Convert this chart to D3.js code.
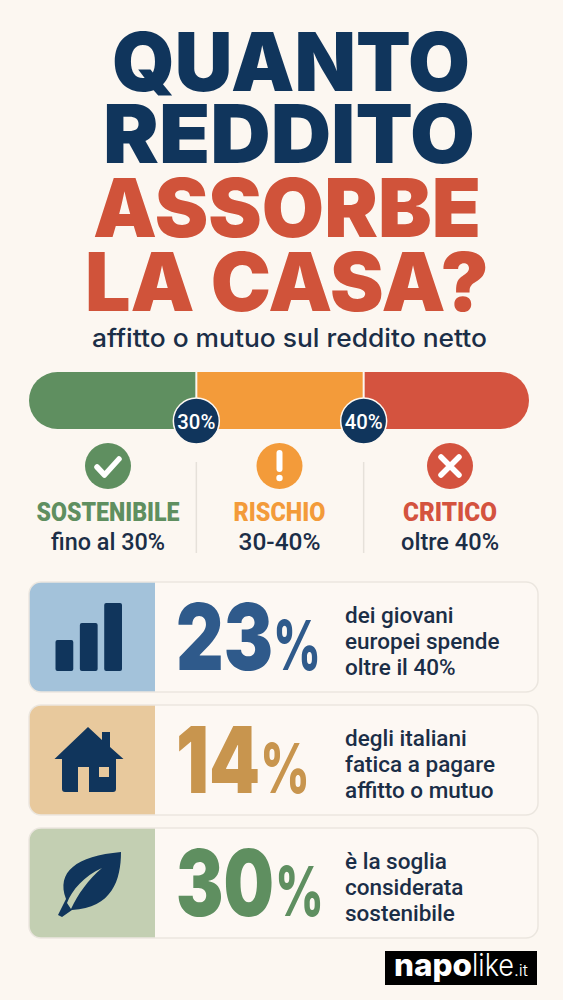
<!DOCTYPE html>
<html>
<head>
<meta charset="utf-8">
<script src="https://cdn.jsdelivr.net/npm/d3@7"></script>
<style>
  html, body { margin: 0; padding: 0; background: #fcf7f1; }
  svg { display: block; }
  text { font-family: Inter, "Noto Sans", sans-serif; }
  .rb { font-family: Roboto, Inter, sans-serif; }
</style>
</head>
<body>
<svg id="chart"></svg>
<script>
// data
const titleLines = ["QUANTO", "REDDITO", "ASSORBE", "LA CASA?"];
const subtitle = "affitto o mutuo sul reddito netto";
const thresholds = [30, 40];
const zoneStarts = [20, 30, 40];
const zoneEnds = [30, 40, 50];
const zoneNames = ["SOSTENIBILE", "RISCHIO", "CRITICO"];
const zoneRanges = ["fino al 30%", "30-40%", "oltre 40%"];
const statValues = [23, 14, 30];
const statLines = [
  ["dei giovani", "europei spende", "oltre il 40%"],
  ["degli italiani", "fatica a pagare", "affitto o mutuo"],
  ["è la soglia", "considerata", "sostenibile"]
];
const iconBars = [31, 48, 68];

// style
const W = 563, H = 1000;
const navy = "#10355c", ink = "#1b2e47", bg = "#fcf7f1";
const zoneColors = ["#5f8f60", "#f39b3a", "#d4533f"];
const panelColors = ["#a3c2da", "#e8c99d", "#c3cfb2"];
const numberColors = ["#2f5a8b", "#c8954e", "#5f8f60"];
const titleColors = [navy, navy, "#d0533a", "#d0533a"];
const titleBase = [91, 163, 237, 311];
const titleX = [[112, 470], [103, 475], [93, 481], [85, 489]];

const svg = d3.select("#chart").attr("width", W).attr("height", H)
  .attr("viewBox", `0 0 ${W} ${H}`);
svg.append("rect").attr("width", W).attr("height", H).attr("fill", bg);

// TITLE
titleLines.forEach((t, i) => {
  svg.append("text")
    .attr("x", titleX[i][0]).attr("y", titleBase[i])
    .attr("textLength", titleX[i][1] - titleX[i][0])
    .attr("lengthAdjust", "spacingAndGlyphs")
    .attr("font-size", 81).attr("font-weight", 900)
    .attr("fill", titleColors[i]).text(t);
});
svg.append("text")
  .attr("x", 92).attr("y", 347)
  .attr("textLength", 395).attr("lengthAdjust", "spacingAndGlyphs")
  .attr("font-size", 25).attr("font-weight", 500)
  .attr("fill", ink).text(subtitle);

// THRESHOLD BAR
const x = d3.scaleLinear().domain([20, 50]).range([29, 531]);
const barTop = 372, barH = 57;
const defs = svg.append("defs");
defs.append("clipPath").attr("id", "barClip").append("rect")
  .attr("x", 29).attr("y", barTop).attr("width", 500).attr("height", barH).attr("rx", 28.5);
const bar = svg.append("g").attr("clip-path", "url(#barClip)");
bar.selectAll("rect").data(zoneStarts).enter().append("rect")
  .attr("x", d => x(d))
  .attr("y", barTop)
  .attr("width", (d, i) => x(zoneEnds[i]) - x(d))
  .attr("height", barH)
  .attr("fill", (d, i) => zoneColors[i]);
bar.selectAll("line").data(thresholds).enter().append("line")
  .attr("x1", d => x(d)).attr("x2", d => x(d))
  .attr("y1", barTop).attr("y2", barTop + barH)
  .attr("stroke", bg).attr("stroke-width", 2);

const marks = svg.selectAll("g.mark").data(thresholds).enter().append("g")
  .attr("class", "mark")
  .attr("transform", d => `translate(${x(d)},421)`);
marks.append("circle").attr("r", 23).attr("fill", navy).attr("stroke", bg).attr("stroke-width", 1.5);
marks.append("text").attr("class", "rb").attr("x", -19).attr("y", 7.5)
  .attr("textLength", 38).attr("lengthAdjust", "spacingAndGlyphs")
  .attr("font-size", 21).attr("font-weight", 500).attr("fill", "#fff")
  .text(d => d + "%");

// dividers
svg.selectAll("line.divider").data(thresholds).enter().append("line")
  .attr("class", "divider")
  .attr("x1", d => x(d)).attr("x2", d => x(d))
  .attr("y1", 462).attr("y2", 553)
  .attr("stroke", "#e6e1da").attr("stroke-width", 1.5);

// ZONE COLUMNS
const zoneCenters = [108, 279.5, 450];
const zoneWidths = [143, 92, 94];
const zoneSubWidths = [114, 82, 98];
const glyphs = [
  g => g.append("path").attr("d", "M-11,1 L-3.5,9 L11,-7").attr("fill", "none")
        .attr("stroke", "#fff").attr("stroke-width", 5.5).attr("stroke-linecap", "round").attr("stroke-linejoin", "round"),
  g => {
    g.append("path").attr("d", "M0,-13 L0,3").attr("stroke", "#fff").attr("stroke-width", 6).attr("stroke-linecap", "round");
    g.append("circle").attr("cy", 12).attr("r", 3.2).attr("fill", "#fff");
  },
  g => g.append("path").attr("d", "M-9,-9 L9,9 M9,-9 L-9,9")
        .attr("stroke", "#fff").attr("stroke-width", 5.5).attr("stroke-linecap", "round")
];
zoneNames.forEach((name, i) => {
  const g = svg.append("g").attr("transform", `translate(${zoneCenters[i]},0)`);
  const ic = g.append("g").attr("transform", "translate(0,466)");
  ic.append("circle").attr("r", 23).attr("fill", zoneColors[i]);
  glyphs[i](ic);
  g.append("text").attr("class", "rb").attr("x", -zoneWidths[i] / 2).attr("y", 521)
    .attr("textLength", zoneWidths[i]).attr("lengthAdjust", "spacingAndGlyphs")
    .attr("font-size", 25).attr("font-weight", 900)
    .attr("fill", zoneColors[i]).text(name);
  g.append("text").attr("class", "rb").attr("x", -zoneSubWidths[i] / 2).attr("y", 550)
    .attr("textLength", zoneSubWidths[i]).attr("lengthAdjust", "spacingAndGlyphs")
    .attr("font-size", 23).attr("font-weight", 500)
    .attr("fill", ink).text(zoneRanges[i]);
});

// STAT CARDS
const cardTop = [582, 705, 828], cardH = 110, cardX = 29, cardW = 509, panelW = 126;
const digitW = [97, 84, 98], pctX = [273, 260, 275], pctW = [48, 50, 49];

statValues.forEach((v, i) => {
  const g = svg.append("g").attr("transform", `translate(0,${cardTop[i]})`);
  const clipId = "card" + i;
  defs.append("clipPath").attr("id", clipId).append("rect")
    .attr("x", cardX).attr("width", cardW).attr("height", cardH).attr("rx", 12);
  g.append("rect").attr("x", cardX).attr("width", cardW).attr("height", cardH).attr("rx", 12)
    .attr("fill", "#fdf8f3");
  g.append("rect").attr("x", cardX).attr("width", panelW).attr("height", cardH)
    .attr("fill", panelColors[i]).attr("clip-path", `url(#${clipId})`);
  g.append("rect").attr("x", cardX).attr("width", cardW).attr("height", cardH).attr("rx", 12)
    .attr("fill", "none").attr("stroke", "#ebe6df").attr("stroke-width", 1.5);

  g.append("text").attr("x", 176).attr("y", 88)
    .attr("textLength", digitW[i]).attr("lengthAdjust", "spacingAndGlyphs")
    .attr("font-size", 92).attr("font-weight", 900)
    .attr("fill", numberColors[i]).text(v);
  g.append("text").attr("x", pctX[i]).attr("y", 88)
    .attr("textLength", pctW[i]).attr("lengthAdjust", "spacingAndGlyphs")
    .attr("font-size", 69).attr("font-weight", 800)
    .attr("fill", numberColors[i]).text("%");

  g.selectAll("text.line").data(statLines[i]).enter().append("text")
    .attr("class", "line rb")
    .attr("x", 345)
    .attr("y", (d, j) => 41 + j * 26)
    .attr("font-size", 22.5).attr("font-weight", 500)
    .attr("fill", ink).text(d => d);
});

// icon 1: bars
const iconX = d3.scaleBand().domain(d3.range(iconBars.length)).range([55.5, 122]).paddingInner(0.27);
const iconY = d3.scaleLinear().domain([0, 68]).range([671, 603]);
svg.selectAll("rect.iconbar").data(iconBars).enter().append("rect")
  .attr("class", "iconbar")
  .attr("x", (d, i) => iconX(i))
  .attr("y", d => iconY(d))
  .attr("width", iconX.bandwidth())
  .attr("height", d => iconY(0) - iconY(d))
  .attr("rx", 2).attr("fill", navy);

// icon 2: house
svg.append("path")
  .attr("d", "M88,727 L102,740 L102,732 L110,732 L110,747 L123.5,759 L116,759 L116,789 Q116,792 113,792 L89,792 L89,767 L78,767 L78,792 L65,792 Q62,792 62,789 L62,759 L54.5,759 Z")
  .attr("fill", navy);
svg.append("rect").attr("x", 99).attr("y", 767).attr("width", 10).attr("height", 10)
  .attr("fill", panelColors[1]);

// icon 3: leaf
svg.append("path")
  .attr("d", "M121,852 C121,880 112,908 72,910 L62,917 L58,915 L66,899 C56,872 76,856 121,852 Z")
  .attr("fill", navy);
svg.append("path")
  .attr("d", "M67,903 C72,890 84,876 102,868 C88,880 78,894 71,909 Z")
  .attr("fill", panelColors[2]);

// LOGO
svg.append("rect").attr("x", 385).attr("y", 951).attr("width", 152).attr("height", 34).attr("fill", "#000");
const logoParts = [["napo", 394, 78, 800, 31], ["like", 472, 42, 300, 31], [".it", 514, 14, 300, 16]];
logoParts.forEach(p => {
  svg.append("text").attr("x", p[1]).attr("y", 976)
    .attr("textLength", p[2]).attr("lengthAdjust", "spacingAndGlyphs")
    .attr("font-size", p[4]).attr("font-weight", p[3])
    .attr("fill", "#fff").text(p[0]);
});
</script>
</body>
</html>
